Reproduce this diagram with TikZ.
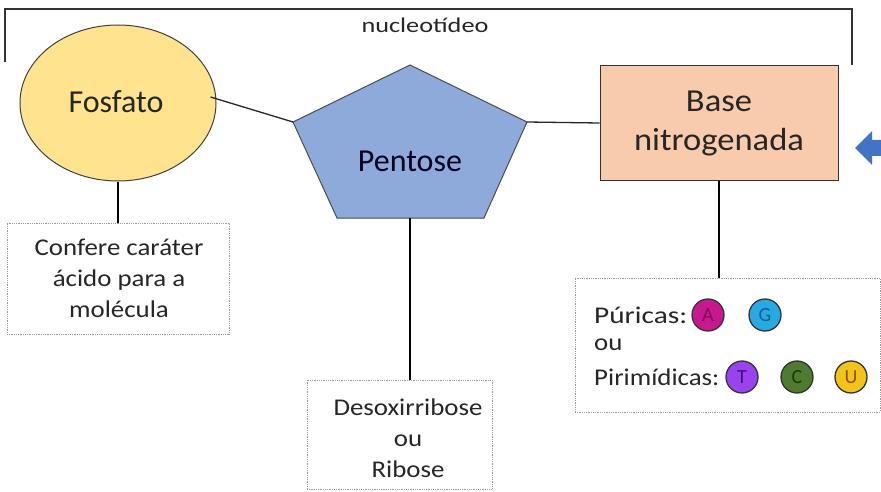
\documentclass[tikz,border=0pt]{standalone}
\usepackage{fontspec}
\setmainfont{Carlito}
\usetikzlibrary{shapes.geometric}
\definecolor{fosfill}{HTML}{FFE38F}
\definecolor{penfill}{HTML}{8EAADB}
\definecolor{basefill}{HTML}{F8CBAD}
\definecolor{txt}{HTML}{262626}
\definecolor{ablue}{HTML}{4472C4}
\tikzset{
  conn/.style={line width=2.2pt, black},
  bigtxt/.style={font=\fontsize{32}{38}\selectfont, text=txt},
  smalltxt/.style={font=\fontsize{24}{31}\selectfont\addfontfeature{FakeStretch=1.12}, text=txt},
  notebox/.style={draw=gray!80, densely dotted, line width=0.8pt},
  base/.style={circle, draw=black!80, line width=1.3pt, minimum size=32pt, inner sep=0pt, font=\fontsize{20}{20}\selectfont}
}
\begin{document}
\begin{tikzpicture}[x=1pt,y=-1pt]
\useasboundingbox (0,0) rectangle (881,492);
% bracket
\draw[line width=1.3pt, black!80] (5,62) -- (5,9) -- (852,9) -- (852,65);
\node[font=\fontsize{21}{21}\selectfont\addfontfeature{FakeStretch=1.25}, text=txt] (nuc) at (425,25) {nucleotídeo};
% shapes
\node[ellipse, draw=black!75, line width=1pt, fill=fosfill, minimum width=196pt, minimum height=156pt, inner sep=0pt] (fos) at (118,103) {};
\node[bigtxt] at (116,102) {Fosfato};
\path[draw=black!70, line width=1pt, fill=penfill] (410,65) -- (527,122) -- (484,218) -- (337,218) -- (293,122) -- cycle;
\coordinate (pl) at (293,122);
\coordinate (pr) at (527,122);
\coordinate (pb) at (410,218);
\node[bigtxt, text=black!80!blue!60!black] (pen) at (410,161) {Pentose};
\node[draw=black!80, line width=1pt, fill=basefill, minimum width=238pt, minimum height=114pt, inner sep=0pt] (base) at (719,123) {};
\node[bigtxt, font=\fontsize{32}{39}\selectfont\addfontfeature{FakeStretch=1.08}, align=center] at (719,123) {Base\\nitrogenada};
% connectors
\draw[line width=1.3pt, black!85] (fos.east) ++(-6,-6) coordinate (fe) -- (pl);
\draw[line width=1.3pt, black!85] (pr) -- (base.west);
% arrow
\fill[ablue] (855,148) -- (872,131) -- (872,140) -- (890,140) -- (890,156) -- (872,156) -- (872,165) -- cycle;
% note boxes
\node[notebox, minimum width=222pt, minimum height=111pt, inner sep=0pt] (n1) at (118,278.5) {};
\node[smalltxt, align=center] at (119,278.5) {Confere caráter\\ácido para a\\molécula};
\node[notebox, minimum width=185pt, minimum height=109pt, inner sep=0pt] (n2) at (399.5,434.5) {};
\node[smalltxt, align=center] at (408,438) {Desoxirribose\\ou\\Ribose};
\node[notebox, minimum width=305pt, minimum height=134pt, inner sep=0pt] (n3) at (727.5,345) {};
\node[smalltxt, font=\fontsize{24}{31}\selectfont\addfontfeature{FakeStretch=1.22}, anchor=west, inner sep=0pt] (pur) at (594,315) {Púricas:};
\node[smalltxt, anchor=west, inner sep=0pt] (ou) at (594,345) {ou};
\node[smalltxt, anchor=west, inner sep=0pt] (pir) at (594,377) {Pirimídicas:};
\node[base, fill={rgb,255:red,199;green,25;blue,143}, text={rgb,255:red,130;green,12;blue,90}] (A) at (708,315) {A};
\node[base, fill={rgb,255:red,41;green,169;blue,225}, text={rgb,255:red,20;green,95;blue,150}] (G) at (765,315) {G};
\node[base, fill={rgb,255:red,155;green,66;blue,240}, text={rgb,255:red,60;green,20;blue,112}] (T) at (742,377) {T};
\node[base, fill={rgb,255:red,79;green,122;blue,47}, text={rgb,255:red,28;green,55;blue,16}] (C) at (797,377) {C};
\node[base, fill={rgb,255:red,242;green,195;blue,27}, text={rgb,255:red,138;green,82;blue,0}] (U) at (851,377) {U};
% vertical connectors
\draw[conn] (fos.south) -- (n1.north);
\draw[conn] (pb) -- (n2.north -| pb);
\draw[conn] (base.south) -- (n3.north -| base.south);
\end{tikzpicture}
\end{document}
